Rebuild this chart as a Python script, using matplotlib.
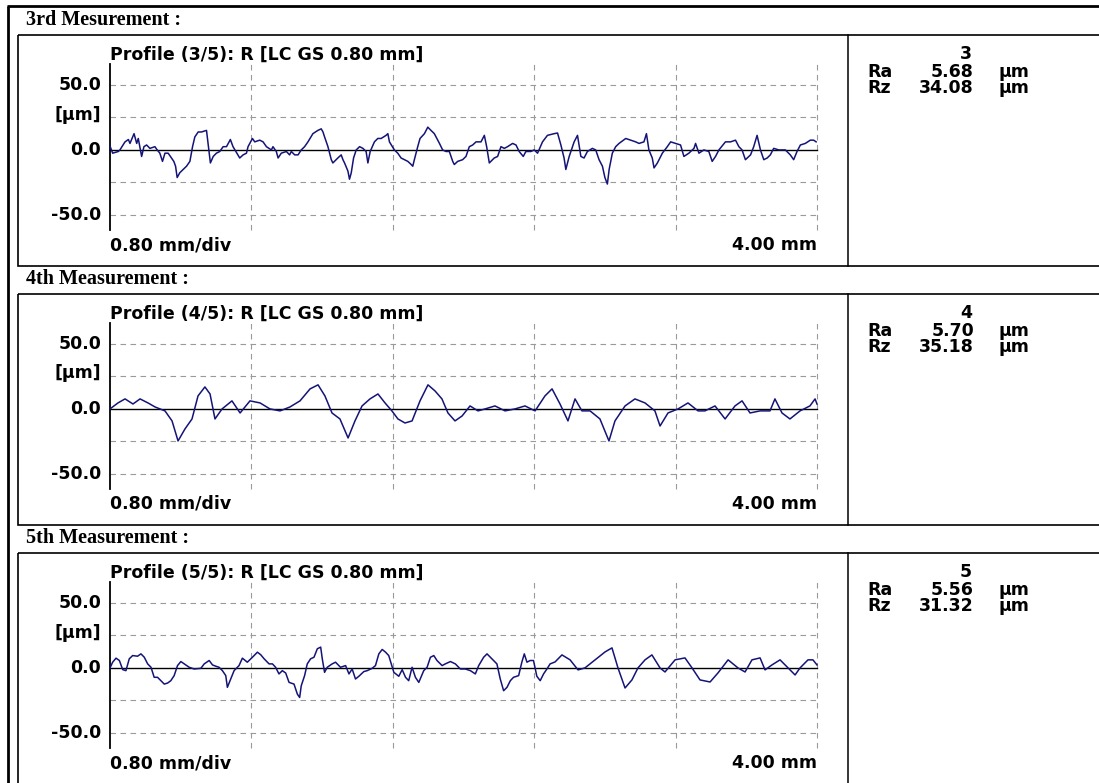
import matplotlib
matplotlib.use("Agg")
import matplotlib.pyplot as plt
from matplotlib.patches import Rectangle

# ---------------- data ----------------
headers = ["3rd Mesurement :", "4th Measurement :", "5th Measurement :"]
titles = ["Profile (3/5): R [LC GS 0.80 mm]",
          "Profile (4/5): R [LC GS 0.80 mm]",
          "Profile (5/5): R [LC GS 0.80 mm]"]
meas_no = ["3", "4", "5"]
ra_vals = ["5.68", "5.70", "5.56"]
rz_vals = ["34.08", "35.18", "31.32"]
ytick_vals = [50, 25, 0, -50]
ytick_labels = ["50.0", "[µm]", "0.0", "-50.0"]
xgrid_vals = [0.8, 1.6, 2.4, 3.2, 4.0]
ygrid_vals = [50, 25, -25, -50]
x_left_label = "0.80 mm/div"
x_right_label = "4.00 mm"

# profile 3 (x in mm, z in µm)
p3_x = [0.000, 0.015, 0.047, 0.056, 0.085, 0.104, 0.113, 0.136, 0.151, 0.160, 0.179, 0.192, 0.207, 0.226,
        0.254, 0.267, 0.282, 0.297, 0.311, 0.329, 0.348, 0.361, 0.371, 0.380, 0.395, 0.414, 0.433, 0.452,
        0.467, 0.480, 0.499, 0.518, 0.546, 0.555, 0.568, 0.584, 0.602, 0.621, 0.640, 0.659, 0.681, 0.696,
        0.734, 0.753, 0.772, 0.781, 0.806, 0.819, 0.847, 0.866, 0.885, 0.913, 0.922, 0.941, 0.951, 0.969,
        0.998, 1.016, 1.026, 1.045, 1.064, 1.082, 1.101, 1.120, 1.148, 1.176, 1.195, 1.205, 1.214, 1.233,
        1.252, 1.261, 1.289, 1.308, 1.318, 1.327, 1.346, 1.355, 1.365, 1.378, 1.393, 1.412, 1.431, 1.449,
        1.459, 1.472, 1.496, 1.515, 1.534, 1.562, 1.572, 1.581, 1.609, 1.628, 1.647, 1.666, 1.685, 1.704,
        1.713, 1.722, 1.741, 1.754, 1.779, 1.798, 1.816, 1.835, 1.864, 1.882, 1.901, 1.920, 1.939, 1.948,
        1.967, 1.995, 2.014, 2.033, 2.052, 2.071, 2.099, 2.118, 2.131, 2.146, 2.174, 2.193, 2.212, 2.231,
        2.249, 2.278, 2.297, 2.315, 2.338, 2.353, 2.381, 2.400, 2.419, 2.447, 2.475, 2.513, 2.532, 2.551,
        2.569, 2.579, 2.598, 2.626, 2.645, 2.664, 2.682, 2.701, 2.729, 2.748, 2.767, 2.786, 2.800, 2.814,
        2.824, 2.842, 2.861, 2.880, 2.918, 2.946, 2.974, 2.993, 3.021, 3.035, 3.049, 3.068, 3.078, 3.097,
        3.125, 3.153, 3.172, 3.200, 3.228, 3.247, 3.275, 3.304, 3.313, 3.332, 3.360, 3.388, 3.407, 3.426,
        3.445, 3.482, 3.511, 3.539, 3.558, 3.576, 3.595, 3.624, 3.642, 3.661, 3.680, 3.699, 3.718, 3.736,
        3.755, 3.784, 3.821, 3.849, 3.868, 3.887, 3.906, 3.934, 3.962, 3.981, 3.995]
p3_z = [3.0, -2.5, -1.2, 0.0, 6.2, 8.0, 5.0, 12.5, 5.0, 8.8, -5.0, 2.5, 3.8, 1.2,
        2.5, 0.0, -2.5, -8.8, -2.5, -2.5, -6.2, -8.8, -12.5, -21.2, -17.5, -15.0, -12.5, -8.8,
        2.5, 10.0, 13.8, 13.8, 15.0, 5.0, -10.0, -5.0, -2.5, -1.2, 2.5, 2.5, 8.0, 2.5,
        -6.2, -3.8, -2.5, 2.5, 8.8, 6.2, 7.5, 6.2, 2.5, 0.0, 2.5, -1.2, -6.2, -2.5,
        -1.2, -3.8, -1.2, -3.8, -3.8, 0.0, 2.5, 6.2, 12.5, 15.0, 16.2, 13.8, 10.0, 2.5,
        -7.5, -10.0, -6.2, -3.8, -7.5, -10.0, -16.2, -22.5, -17.5, -6.2, 0.0, 2.5, 1.2, -1.2,
        -10.0, -1.2, 6.2, 8.8, 8.8, 11.2, 12.5, 6.2, 0.0, -2.5, -6.2, -7.5, -8.8, -11.2,
        -12.5, -7.5, 2.5, 8.8, 12.5, 17.5, 15.0, 12.5, 5.0, 0.0, -1.2, -1.2, -8.8, -11.2,
        -8.8, -7.5, -5.0, 2.5, 3.8, 6.2, 6.2, 11.2, 2.5, -10.0, -6.2, -5.0, 2.5, 1.2,
        2.5, 5.0, 3.8, -1.2, -5.0, -1.2, -1.2, 0.0, -2.5, 6.2, 11.2, 12.5, 13.0, 3.8,
        -6.2, -15.0, -5.0, 6.2, 11.2, -5.0, -6.2, -1.2, 1.2, 0.0, -7.5, -12.5, -21.2, -26.2,
        -15.0, -2.5, 2.5, 5.0, 8.8, 7.5, 6.2, 5.0, 6.2, 12.5, 0.0, -6.2, -13.8, -10.0,
        -2.5, 2.5, 6.2, 5.0, 3.8, -5.0, -2.5, 1.2, 5.0, -2.5, 0.0, -1.2, -8.8, -5.0,
        0.0, 6.2, 6.2, 7.5, 2.5, 0.0, -7.5, -3.8, 2.5, 11.2, 0.0, -7.5, -6.2, -3.8,
        1.2, 0.0, 0.0, -3.8, -7.5, -1.2, 3.8, 5.0, 7.5, 7.5, 6.2]

# profile 4
p4_x = [0.000, 0.045, 0.085, 0.130, 0.170, 0.215, 0.255, 0.311, 0.351, 0.385, 0.424, 0.464, 0.498, 0.537,
        0.566, 0.594, 0.634, 0.690, 0.736, 0.792, 0.849, 0.905, 0.962, 1.018, 1.075, 1.132, 1.177, 1.216,
        1.256, 1.301, 1.347, 1.386, 1.426, 1.471, 1.516, 1.556, 1.595, 1.629, 1.669, 1.709, 1.754, 1.799,
        1.839, 1.878, 1.912, 1.952, 1.992, 2.037, 2.082, 2.122, 2.178, 2.235, 2.291, 2.348, 2.405, 2.461,
        2.501, 2.546, 2.591, 2.631, 2.670, 2.716, 2.772, 2.823, 2.857, 2.914, 2.970, 3.027, 3.083, 3.112,
        3.157, 3.214, 3.270, 3.327, 3.366, 3.423, 3.480, 3.536, 3.576, 3.621, 3.678, 3.734, 3.762, 3.802,
        3.847, 3.904, 3.960, 3.989, 4.000]
p4_z = [0.0, 4.6, 7.7, 3.8, 7.7, 4.6, 1.5, -1.5, -9.2, -24.6, -15.4, -7.7, 10.0, 16.9,
        11.5, -7.7, 0.0, 6.2, -3.1, 6.2, 4.6, 0.0, -1.5, 1.5, 6.2, 15.4, 18.5, 10.0,
        -3.1, -7.7, -22.3, -9.2, 2.3, 7.7, 11.5, 4.6, -1.5, -7.7, -10.8, -9.2, 6.2, 18.5,
        13.8, 7.7, -3.1, -9.2, -5.4, 2.3, -1.5, 0.0, 2.3, -1.5, 0.0, 2.3, -1.5, 10.0,
        15.4, 3.8, -9.2, 7.7, -1.5, -1.5, -7.7, -24.6, -9.2, 2.3, 7.7, 4.6, -1.5, -13.1,
        -3.1, 0.0, 4.6, -1.5, -1.5, 2.3, -7.7, 2.3, 6.2, -3.1, -1.5, -1.5, 7.7, -3.1,
        -7.7, -1.5, 2.3, 7.7, 3.8]

# profile 5
p5_x = [0.000, 0.015, 0.034, 0.053, 0.072, 0.090, 0.109, 0.128, 0.156, 0.175, 0.194, 0.213, 0.232, 0.250,
        0.269, 0.288, 0.307, 0.326, 0.344, 0.363, 0.382, 0.401, 0.420, 0.448, 0.476, 0.514, 0.533, 0.561,
        0.580, 0.599, 0.617, 0.636, 0.655, 0.664, 0.683, 0.702, 0.730, 0.749, 0.777, 0.806, 0.834, 0.853,
        0.872, 0.900, 0.919, 0.937, 0.956, 0.975, 0.994, 1.013, 1.041, 1.060, 1.073, 1.082, 1.101, 1.116,
        1.135, 1.154, 1.173, 1.192, 1.201, 1.214, 1.229, 1.257, 1.276, 1.304, 1.333, 1.352, 1.370, 1.389,
        1.408, 1.436, 1.455, 1.483, 1.502, 1.521, 1.540, 1.559, 1.577, 1.606, 1.634, 1.653, 1.672, 1.690,
        1.709, 1.728, 1.747, 1.775, 1.794, 1.813, 1.832, 1.850, 1.879, 1.897, 1.926, 1.954, 1.982, 2.010,
        2.039, 2.067, 2.086, 2.114, 2.133, 2.161, 2.189, 2.208, 2.227, 2.246, 2.265, 2.283, 2.312, 2.330,
        2.344, 2.359, 2.377, 2.396, 2.415, 2.434, 2.453, 2.472, 2.490, 2.518, 2.557, 2.603, 2.648, 2.687,
        2.744, 2.801, 2.840, 2.874, 2.914, 2.953, 2.987, 3.027, 3.066, 3.112, 3.140, 3.197, 3.253, 3.293,
        3.338, 3.395, 3.440, 3.497, 3.553, 3.593, 3.632, 3.678, 3.706, 3.745, 3.791, 3.836, 3.876, 3.904,
        3.949, 3.977, 4.000]
p5_z = [0.0, 4.4, 7.5, 5.7, -1.3, -2.1, 7.0, 9.5, 9.0, 10.8, 8.2, 3.1, 0.5, -7.2,
        -7.2, -9.8, -12.4, -11.6, -9.8, -5.9, 1.8, 4.9, 3.1, 0.5, -0.8, -0.3, 3.1, 5.7,
        2.3, 1.3, 0.5, -2.1, -5.9, -14.9, -8.5, -2.1, 1.8, 7.5, 4.4, 8.2, 12.1, 10.1,
        7.0, 3.1, 3.1, 0.5, -4.6, -2.1, -3.9, -11.1, -12.4, -20.1, -22.7, -13.7, -5.9, 3.1,
        7.0, 8.2, 14.7, 16.0, 7.0, -3.4, 0.5, 3.1, 4.4, 0.5, 1.8, -4.6, -0.8, -8.5,
        -6.4, -2.8, -2.1, -0.3, 1.8, 10.8, 14.2, 12.1, 9.5, -3.4, -6.4, -1.3, -7.2, -9.8,
        0.5, -7.2, -11.1, -2.1, 0.5, 8.2, 9.5, 5.7, 1.8, 3.1, 4.9, 3.1, -0.8, -0.8,
        -2.1, -4.6, 1.8, 8.2, 10.8, 7.0, 3.1, -8.5, -17.5, -14.9, -9.8, -7.2, -5.9, 4.4,
        10.8, 4.4, 5.7, 5.7, -6.4, -9.8, -4.6, -0.8, 3.1, 4.6, 10.0, 6.2, -1.5, 0.0,
        6.2, 12.3, 15.4, 0.0, -15.4, -9.2, 0.0, 6.2, 10.0, 0.0, -3.1, 6.2, 7.7, 0.0,
        -9.2, -10.8, -3.8, 6.2, 0.0, -3.1, 6.2, 7.7, -1.5, 2.3, 6.2, 0.0, -5.4, 0.0,
        6.2, 6.2, 2.3]

profiles_x = [p3_x, p4_x, p5_x]
profiles_z = [p3_z, p4_z, p5_z]

# ---------------- layout ----------------
W, H = 1099, 783
fig = plt.figure(figsize=(W / 100, H / 100), dpi=100)
bg = fig.add_axes([0, 0, 1, 1])
bg.set_xlim(0, W)
bg.set_ylim(H, 0)
bg.axis("off")

sans = "DejaVu Sans"
serif = "Liberation Serif"
navy = "#141478"
grid_col = "#9a9a9a"
pitch = 259
fs = 12.5

# outer frame
bg.plot([8, 8], [6, H + 5], color="black", lw=2.0, solid_capstyle="butt")
bg.plot([7, W + 5], [6, 6], color="black", lw=2.0, solid_capstyle="butt")

for k in range(3):
    off = k * pitch
    # header
    bg.text(26, 20 + off, headers[k], ha="left", va="center", fontsize=14.5,
            fontweight="bold", family=serif)
    # inner box
    bg.add_patch(Rectangle((18, 35 + off), W, 231, fill=False, ec="black", lw=1.2))
    bg.plot([848, 848], [35 + off, 266 + off], color="black", lw=1.1)

    # profile axes
    top_px, bot_px = 64 + off, 230 + off
    ax = fig.add_axes([110 / W, 1 - bot_px / H, 707 / W, (bot_px - top_px) / H])
    ax.set_xlim(0, 4.0)
    ax.set_ylim(-61.5, 66)
    ax.axis("off")
    for gy in ygrid_vals:
        ax.plot([0, 4.0], [gy, gy], color=grid_col, lw=0.8, ls=(0, (5, 4)), clip_on=False)
    for gx in xgrid_vals:
        ax.plot([gx, gx], [-61.5, 66], color=grid_col, lw=0.8, ls=(0, (5, 4)), clip_on=False)
    ax.plot([0, 4.0], [0, 0], color="black", lw=1.0, clip_on=False)
    ax.plot([0, 0], [-61.5, 66], color="black", lw=1.3, clip_on=False)
    ax.plot(profiles_x[k], profiles_z[k], color=navy, lw=1.1, clip_on=False)

    # y labels
    for v, lab in zip(ytick_vals, ytick_labels):
        ypx = 150 + off - v * 1.3
        if lab.startswith("["):
            ypx -= 3
        bg.text(101, ypx, lab, ha="right", va="center", fontsize=fs,
                fontweight="bold", family=sans)

    bg.text(110, 55 + off, titles[k], ha="left", va="center", fontsize=fs,
            fontweight="bold", family=sans)
    bg.text(110, 245 + off, x_left_label, ha="left", va="center", fontsize=fs,
            fontweight="bold", family=sans)
    bg.text(817, 245 + off, x_right_label, ha="right", va="center", fontsize=fs,
            fontweight="bold", family=sans)

    # right info box
    bg.text(972, 54 + off, meas_no[k], ha="right", va="center", fontsize=fs,
            fontweight="bold", family=sans)
    for j, (nm, val) in enumerate([("Ra", ra_vals[k]), ("Rz", rz_vals[k])]):
        ypx = 72 + off + j * 16
        bg.text(867, ypx, nm, ha="left", va="center", fontsize=fs, fontweight="bold", family=sans)
        bg.text(974, ypx, val, ha="right", va="center", fontsize=fs, fontweight="bold", family=sans)
        bg.text(999, ypx, "µm", ha="left", va="center", fontsize=fs, fontweight="bold", family=sans)

fig.savefig("out.png", dpi=100)
